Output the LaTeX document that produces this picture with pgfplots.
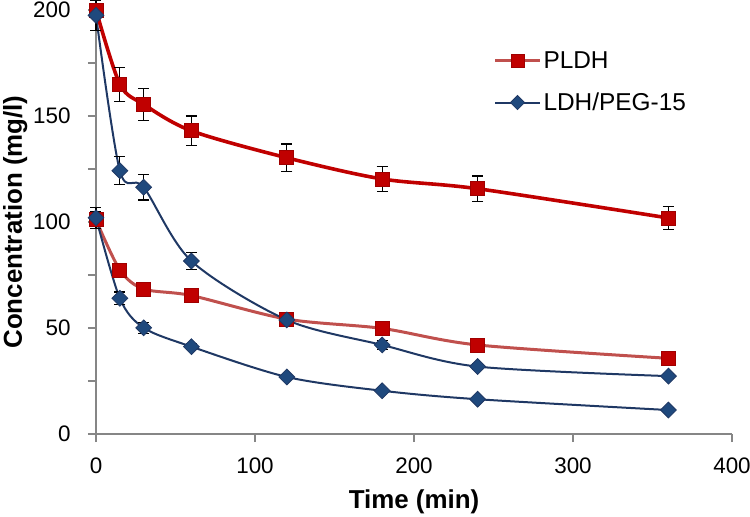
\documentclass[border=0pt]{standalone}
\usepackage{fontspec}
\setmainfont{Liberation Sans}
\usepackage{pgfplots}
\pgfplotsset{compat=1.18}
\definecolor{dred}{HTML}{C00000}
\definecolor{dredb}{HTML}{A00000}
\definecolor{lred}{HTML}{C0504D}
\definecolor{navy}{HTML}{1F3864}
\definecolor{navym}{HTML}{1F497D}
\definecolor{axgray}{HTML}{868686}
\begin{document}
\begin{tikzpicture}
\path[use as bounding box] (-96bp,-83bp) rectangle (654bp,434bp);
\begin{axis}[
  at={(0,0)}, anchor=south west,
  scale only axis, width=636bp, height=424bp,
  xmin=0, xmax=400, ymin=0, ymax=200,
  clip=false,
  axis lines*=left,
  axis line style={axgray, line width=1.2bp},
  tick align=outside,
  major tick length=8bp, minor tick length=8bp,
  every tick/.style={axgray, line width=1.2bp},
  minor tick style={axgray, line width=1.2bp},
  xtick={0,100,200,300,400},
  ytick={0,50,100,150,200},
  minor ytick={25,75,125,175},
  /pgf/number format/assume math mode=true,
  ticklabel style={font=\fontsize{22.5}{27}\selectfont},
  xticklabel style={yshift=-12bp},
  yticklabel style={xshift=-14bp},
  xlabel={\textbf{Time (min)}},
  ylabel={\textbf{Concentration (mg/l)}},
  xlabel style={font=\fontsize{26}{31}\selectfont, at={(axis description cs:0.5,0)}, anchor=base, yshift=-74bp},
  ylabel style={font=\fontsize{26}{31}\selectfont, at={(axis description cs:-0.1164,0.5)}, anchor=base, rotate=0},
  legend style={draw=none, fill=none, legend cell align=left,
    at={(axis description cs:0.62,0.9115)}, anchor=north west,
    font=\fontsize{24.5}{29}\selectfont, row sep=19bp},
  legend image code/.code={
    \draw[mark repeat=2,mark phase=2] plot coordinates {(0bp,0bp) (22.5bp,0bp) (45bp,0bp)};
  },
  error bars/y dir=both, error bars/y explicit,
  error bars/error mark options={rotate=90, mark size=5.5bp, black, line width=1.1bp},
  error bars/error bar style={black, line width=1.1bp},
]
% PLDH high
\addplot[forget plot, dred, line width=3.6bp, smooth, tension=0.5,
  mark=square*, mark size=7bp, mark options={fill=dred, draw=dredb, line width=0.8bp}]
  coordinates {
  (0,200) +- (0,2)
  (15,165) +- (0,8)
  (30,155.5) +- (0,7.5)
  (60,143) +- (0,7)
  (120,130.3) +- (0,6.5)
  (180,120.3) +- (0,6)
  (240,115.7) +- (0,6)
  (360,101.9) +- (0,5.5)
  };
% PLDH low
\addplot[forget plot, lred, line width=3bp, smooth, tension=0.5,
  mark=square*, mark size=7bp, mark options={fill=dred, draw=dredb, line width=0.8bp}]
  coordinates {
  (0,101) +- (0,4)
  (15,77.4) +- (0,3)
  (30,68.4) +- (0,2)
  (60,65.3) +- (0,1.5)
  (120,54.2) +- (0,2)
  (180,49.8) +- (0,2)
  (240,42) +- (0,1.5)
  (360,35.7) +- (0,1)
  };
% LDH/PEG-15 high
\addplot[forget plot, navy, line width=2bp, smooth, tension=0.5,
  mark=square*, mark size=5.6bp, mark options={rotate=45, fill=navym, draw=navy, line width=0.8bp}]
  coordinates {
  (0,197.5) +- (0,7)
  (15,124.2) +- (0,6.5)
  (30,116.4) +- (0,6)
  (60,81.6) +- (0,4)
  (120,53.8) +- (0,3)
  (180,42) +- (0,2)
  (240,31.8) +- (0,1.5)
  (360,27.3) +- (0,1)
  };
% LDH/PEG-15 low
\addplot[forget plot, navy, line width=2bp, smooth, tension=0.5,
  mark=square*, mark size=5.6bp, mark options={rotate=45, fill=navym, draw=navy, line width=0.8bp}]
  coordinates {
  (0,102) +- (0,5)
  (15,64) +- (0,3)
  (30,50.1) +- (0,2.5)
  (60,41.2) +- (0,1.5)
  (120,26.9) +- (0,1)
  (180,20.4) +- (0,1)
  (240,16.4) +- (0,1)
  (360,11.3) +- (0,1)
  };
\addlegendimage{lred, line width=3bp, mark=square*, mark size=6.5bp, mark options={fill=dred, draw=dredb, line width=0.8bp}}
\addlegendentry{PLDH}
\addlegendimage{navy, line width=2bp, mark=square*, mark size=5bp, mark options={rotate=45, fill=navym, draw=navy, line width=0.8bp}}
\addlegendentry{LDH/PEG-15}
\end{axis}
\end{tikzpicture}
\end{document}
